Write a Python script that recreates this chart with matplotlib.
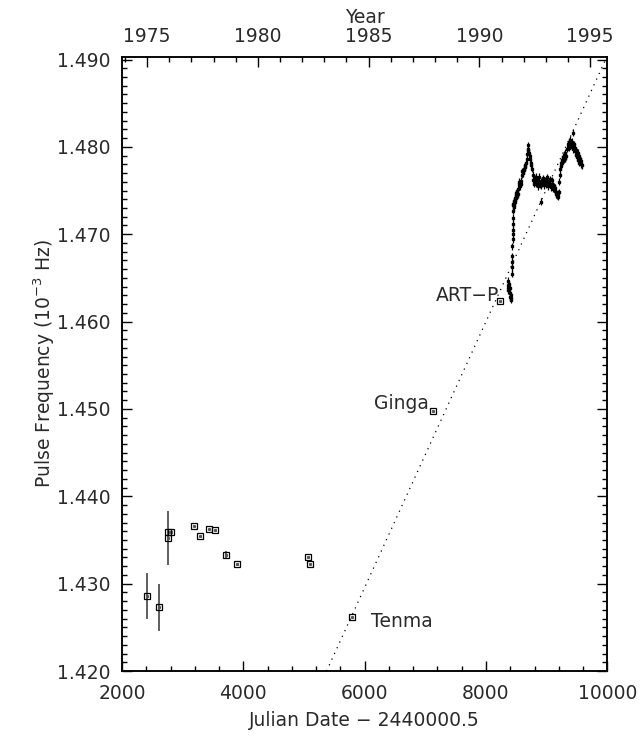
import datetime as dt
import numpy as np
import matplotlib
matplotlib.use("Agg")
import matplotlib.pyplot as plt
from matplotlib.ticker import MultipleLocator, FixedLocator, NullFormatter

# historical measurements (JD - 2440000.5, pulse frequency in 1e-3 Hz)
hist_jd = [2416, 2614, 2757, 2757, 2806, 3185, 3294, 3442, 3536, 3712, 3898, 5062, 5095]
hist_f = [1.4286, 1.4273, 1.4352, 1.4359, 1.4359, 1.4366, 1.4355, 1.4362, 1.4361,
          1.4333, 1.4322, 1.4330, 1.4322]
hist_err = [0.0026, 0.0027, 0.0031, 0, 0, 0, 0, 0, 0, 0.0004, 0, 0, 0]

# labelled missions
named = ["Tenma", "Ginga", "ART\u2212P"]
named_jd = [5791, 7119, 8239]
named_f = [1.4262, 1.4498, 1.4623]

# dense monitoring data 1991-1994
dense_jd = [8355, 8360, 8365, 8370, 8385, 8390, 8395, 8400, 8405, 8410, 8415,
            8428, 8430, 8432, 8434, 8436, 8437, 8438, 8440, 8441, 8442, 8443, 8445,
            8450, 8455, 8460, 8465, 8470, 8475, 8480, 8485, 8490, 8495, 8500, 8505, 8510, 8520,
            8530, 8540, 8550, 8560, 8570, 8580,
            8590, 8600, 8610, 8620, 8630, 8640, 8650, 8660, 8670,
            8680, 8690, 8695, 8700, 8710, 8720,
            8730, 8740, 8750, 8760, 8770, 8780, 8790, 8800,
            8810, 8820, 8830, 8840, 8850, 8860, 8870, 8880, 8890, 8900, 8910, 8914, 8920, 8930,
            8940, 8950, 8960, 8970, 8980, 8990, 9000, 9010, 9020, 9030, 9040, 9050, 9060, 9070,
            9080, 9090, 9100, 9110, 9120, 9130, 9140, 9150, 9160, 9170, 9180, 9190, 9200,
            9210, 9215, 9220, 9230, 9240, 9250, 9260, 9270, 9280, 9290, 9300, 9310, 9320,
            9340, 9350, 9360, 9370, 9380, 9390, 9400, 9410, 9420, 9430, 9434,
            9440, 9450, 9460, 9470, 9480, 9490, 9500, 9510, 9520, 9530, 9540, 9550, 9560, 9570, 9580]
dense_f = [1.4647, 1.4642, 1.4638, 1.4636, 1.4643, 1.4638, 1.4633, 1.4628, 1.4625, 1.4630, 1.4627,
           1.4655, 1.4662, 1.4668, 1.4675, 1.4686, 1.4694, 1.4700, 1.4705, 1.4712, 1.4719, 1.4727, 1.4733,
           1.4735, 1.4731, 1.4738, 1.4734, 1.4740, 1.4737, 1.4742, 1.4739, 1.4745, 1.4742, 1.4747, 1.4744, 1.4749, 1.4746,
           1.4752, 1.4757, 1.4760, 1.4755, 1.4761, 1.4758,
           1.4768, 1.4772, 1.4770, 1.4775, 1.4773, 1.4777, 1.4779, 1.4781, 1.4786,
           1.4792, 1.4798, 1.4802, 1.4796, 1.4793, 1.4789,
           1.4786, 1.4782, 1.4779, 1.4775, 1.4768, 1.4762, 1.4758, 1.4764,
           1.4760, 1.4766, 1.4758, 1.4762, 1.4755, 1.4760, 1.4766, 1.4761, 1.4757, 1.4760, 1.4756, 1.4737, 1.4761, 1.4758,
           1.4764, 1.4760, 1.4756, 1.4759, 1.4762, 1.4757, 1.4761, 1.4765, 1.4759, 1.4755, 1.4760, 1.4763, 1.4758, 1.4754,
           1.4757, 1.4762, 1.4756, 1.4752, 1.4755, 1.4750, 1.4753, 1.4748, 1.4746, 1.4744, 1.4747, 1.4743, 1.4748,
           1.4760, 1.4768, 1.4775, 1.4781, 1.4778, 1.4785, 1.4782, 1.4788, 1.4785, 1.4791, 1.4787, 1.4793, 1.4789,
           1.4798, 1.4803, 1.4799, 1.4806, 1.4802, 1.4808, 1.4804, 1.4800, 1.4806, 1.4801, 1.4816,
           1.4797, 1.4803, 1.4795, 1.4799, 1.4791, 1.4796, 1.4788, 1.4793, 1.4785, 1.4789, 1.4782, 1.4786, 1.4780, 1.4784, 1.4779]
dense_err = 0.0004

# spin-up trend line: value at jd0 and slope per day
trend_jd0 = 5372
trend_f0 = 1.4200
trend_slope = 1.522e-5

years_major = [1975, 1980, 1985, 1990, 1995]
years_minor = list(range(1974, 1997))


def year_to_jd(y):
    # JD - 2440000.5 at Jan 1 of the year (1970-01-01 -> 587)
    return (dt.date(y, 1, 1) - dt.date(1970, 1, 1)).days + 587


plt.rcParams['font.family'] = ['DejaVu Sans']
txt = '#2a2a2a'
fs = 13.5

fig = plt.figure(figsize=(6.42, 7.39), dpi=100)
ax = fig.add_axes([0.190, 0.092, 0.756, 0.831])

# trend line
tj = np.array([trend_jd0, 10000])
ax.plot(tj, trend_f0 + trend_slope * (tj - trend_jd0), color='k',
        linestyle=(0, (1, 4)), linewidth=0.9)

# historical points
ax.errorbar(hist_jd, hist_f, yerr=hist_err, fmt='s', ms=5, mfc='none', mec='k',
            mew=0.9, ecolor='#333333', elinewidth=1.1, capsize=0)
ax.plot(hist_jd, hist_f, 's', ms=1.2, color='#555555')
ax.plot(named_jd, named_f, 's', ms=5, mfc='none', mec='k', mew=0.9)
ax.plot(named_jd, named_f, 's', ms=1.2, color='#555555')

# dense data
ax.errorbar(dense_jd, dense_f, yerr=dense_err, fmt='s', ms=1.8, color='k',
            elinewidth=0.9, capsize=0)

# labels of missions
ax.annotate(named[0], (named_jd[0], named_f[0]), xytext=(14, -3), textcoords='offset points',
            ha='left', va='center', fontsize=fs, color=txt)
ax.annotate(named[1], (named_jd[1], named_f[1]), xytext=(-3, 5), textcoords='offset points',
            ha='right', va='center', fontsize=fs, color=txt)
ax.annotate(named[2], (named_jd[2], named_f[2]), xytext=(-1, 4), textcoords='offset points',
            ha='right', va='center', fontsize=fs, color=txt)

ax.set_xlim(2000, 10000)
ax.set_ylim(1.420, 1.4903)
ax.xaxis.set_major_locator(MultipleLocator(2000))
ax.xaxis.set_minor_locator(MultipleLocator(400))
ax.yaxis.set_major_locator(MultipleLocator(0.010))
ax.yaxis.set_minor_locator(MultipleLocator(0.001))
ax.yaxis.set_major_formatter(plt.FormatStrFormatter('%.3f'))
ax.tick_params(which='both', direction='in', right=True, top=False, colors='k',
               labelcolor=txt, labelsize=fs, width=1.0)
ax.tick_params(which='major', length=7.2)
ax.tick_params(which='minor', length=3.6)
ax.tick_params(axis='x', pad=9)
ax.tick_params(axis='y', pad=8)
for s in ax.spines.values():
    s.set_linewidth(1.1)

ax.set_xlabel('Julian Date \u2212 2440000.5', fontsize=fs, color=txt, labelpad=6)
ax.set_ylabel('Pulse Frequency (10$^{-3}$ Hz)', fontsize=fs, color=txt, labelpad=0)

# top axis in years
top = ax.twiny()
top.set_xlim(ax.get_xlim())
top.xaxis.set_major_locator(FixedLocator([year_to_jd(y) for y in years_major]))
top.set_xticklabels([str(y) for y in years_major])
top.xaxis.set_minor_locator(FixedLocator([year_to_jd(y) for y in years_minor]))
top.xaxis.set_minor_formatter(NullFormatter())
top.tick_params(which='both', direction='in', colors='k', labelcolor=txt,
                labelsize=fs, width=1.0, pad=8)
top.tick_params(which='major', length=7.2)
top.tick_params(which='minor', length=3.6)
top.set_xlabel('Year', fontsize=fs, color=txt, labelpad=3)
for s in top.spines.values():
    s.set_linewidth(1.1)

fig.savefig('out.png', dpi=100)
